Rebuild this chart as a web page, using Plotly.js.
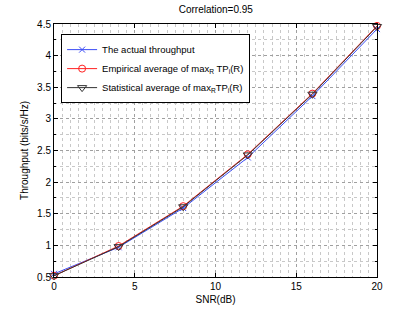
<!DOCTYPE html>
<html><head><meta charset="utf-8">
<script src="https://cdn.plot.ly/plotly-3.0.1.min.js"></script>
<style>html,body{margin:0;padding:0;background:#fff}#chart{width:415px;height:312px}</style>
</head><body><div id="chart"></div>
<script>
const snr = [0, 4, 8, 12, 16, 20];
const actual = [0.55, 0.97, 1.59, 2.39, 3.36, 4.42];
const empirical = [0.52, 0.99, 1.62, 2.44, 3.40, 4.47];
const statistical = [0.52, 0.98, 1.61, 2.43, 3.39, 4.46];
const names = ['The actual throughput', 'Empirical average of max<sub>R</sub> TP<sub>i</sub>(R)', 'Statistical average of max<sub>R</sub>TP<sub>i</sub>(R)'];
const xTicks = [0, 5, 10, 15, 20];
const yTicks = [0.5, 1, 1.5, 2, 2.5, 3, 3.5, 4, 4.5];

const traces = [
  {x: snr, y: actual, name: names[0], mode: 'lines+markers', cliponaxis: false, line: {color: '#3b4cf5', width: 1}, marker: {symbol: 'x-thin-open', size: 6, color: '#3b4cf5', line: {color: '#3b4cf5', width: 1}}},
  {x: snr, y: empirical, name: names[1], mode: 'lines+markers', cliponaxis: false, line: {color: '#ff2020', width: 1}, marker: {symbol: 'circle-open', size: 7, color: '#ff2020', line: {width: 1}}},
  {x: snr, y: statistical, name: names[2], mode: 'lines+markers', cliponaxis: false, line: {color: '#333333', width: 1}, marker: {symbol: 'triangle-down-open', size: 8, color: '#333333', line: {width: 1}}}
];

const axisCommon = {
  showline: true, linecolor: '#000', linewidth: 1, mirror: 'ticks', ticks: 'inside', ticklen: 4, tickcolor: '#000',
  showgrid: true, gridcolor: '#a0a0a0', griddash: 'dot', gridwidth: 1, zeroline: false,
  tickfont: {family: 'Liberation Sans, Arial, sans-serif', size: 10, color: '#000'}
};

const layout = {
  width: 415, height: 312,
  margin: {l: 54, r: 38, t: 24, b: 35},
  paper_bgcolor: '#fff', plot_bgcolor: '#fff',
  font: {family: 'Liberation Sans, Arial, sans-serif', size: 10, color: '#000'},
  title: {text: 'Correlation=0.95', x: 0.52, xanchor: 'center', y: 0.98, yanchor: 'top', font: {size: 10, color: '#000'}},
  showlegend: true,
  legend: {x: 0.022, y: 0.96, xanchor: 'left', yanchor: 'top', bgcolor: '#fff', bordercolor: '#000', borderwidth: 1,
    font: {size: 9.5, color: '#000'}, tracegroupgap: 0, itemwidth: 30},
  xaxis: Object.assign({}, axisCommon, {
    range: [0, 20], tickvals: xTicks, ticktext: xTicks.map(String),
    title: {text: 'SNR(dB)', standoff: 4, font: {size: 10, color: '#000'}},
    minor: {dtick: 0.5, tick0: 0, showgrid: true, gridcolor: '#c8c8c8', griddash: 'dot', gridwidth: 1, ticks: ''}
  }),
  yaxis: Object.assign({}, axisCommon, {
    range: [0.5, 4.5], tickvals: yTicks, ticktext: yTicks.map(String),
    title: {text: 'Throughput (bits/s/Hz)', standoff: 6, font: {size: 10, color: '#000'}},
    minor: {dtick: 0.25, tick0: 0.5, showgrid: true, gridcolor: '#c8c8c8', griddash: 'dot', gridwidth: 1, ticks: 'inside', ticklen: 2, tickcolor: '#000'}
  })
};

Plotly.newPlot('chart', traces, layout, {displayModeBar: false, staticPlot: true});
</script></body></html>
